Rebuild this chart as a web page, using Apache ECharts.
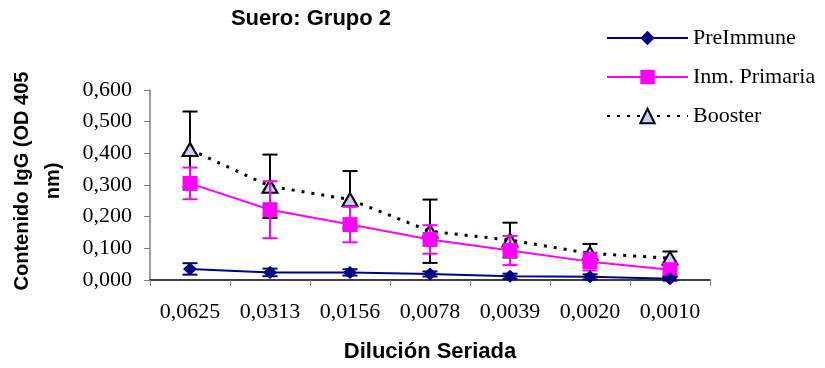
<!DOCTYPE html>
<html>
<head>
<meta charset="utf-8">
<script src="https://cdn.jsdelivr.net/npm/echarts@6/dist/echarts.min.js"></script>
<style>html,body{margin:0;padding:0;background:#fff;}#c{width:825px;height:368px;}</style>
</head>
<body>
<div id="c"></div>
<script>
const categories = ['0,0625','0,0313','0,0156','0,0078','0,0039','0,0020','0,0010'];
const preImmune = [0.035,0.024,0.024,0.019,0.012,0.010,0.004];
const preImmuneErr = [0.018,0.012,0.010,0.008,0.008,0.008,0.006];
const primaria = [0.305,0.222,0.175,0.128,0.093,0.058,0.032];
const primariaErr = [0.050,0.090,0.056,0.045,0.046,0.028,0.020];
const booster = [0.412,0.296,0.254,0.154,0.126,0.084,0.069];
const boosterErr = [0.120,0.100,0.090,0.100,0.055,0.030,0.021];
const yTicks = {min:0, max:0.6, interval:0.1};

function errData(vals, errs){ return vals.map((v,i)=>[i, v-errs[i], v+errs[i]]); }
function errRender(color){
  return function(params, api){
    const x = api.value(0);
    const lo = api.coord([x, api.value(1)]);
    const hi = api.coord([x, api.value(2)]);
    const h = 7.5;
    const st = {stroke: color, lineWidth: 2};
    return {type:'group', children:[
      {type:'line', shape:{x1:hi[0], y1:hi[1], x2:lo[0], y2:lo[1]}, style:st},
      {type:'line', shape:{x1:hi[0]-h, y1:hi[1], x2:hi[0]+h, y2:hi[1]}, style:st},
      {type:'line', shape:{x1:lo[0]-h, y1:lo[1], x2:lo[0]+h, y2:lo[1]}, style:st}
    ]};
  };
}

const chart = echarts.init(document.getElementById('c'));
const serif = 'Liberation Serif';
const sans = 'Liberation Sans';
chart.setOption({
  animation:false,
  backgroundColor:'#fff',
  grid:{left:150, right:115, top:90, bottom:86},
  graphic:[
    {type:'text', x:311, y:8, style:{text:'Suero: Grupo 2', font:'bold 22px "Liberation Sans"', fill:'#000', textAlign:'center', textVerticalAlign:'top'}},
    {type:'text', x:38, y:181, rotation:Math.PI/2, style:{text:'Contenido IgG (OD 405\nnm)', font:'bold 20px "Liberation Sans"', lineHeight:31, fill:'#000', textAlign:'center', textVerticalAlign:'middle'}}
  ],
  legend:{
    orient:'vertical', left:601, top:22, itemWidth:81, itemHeight:18, itemGap:17,
    data:['PreImmune','Inm. Primaria','Booster'],
    textStyle:{fontFamily:serif, fontSize:22, color:'#000'}
  },
  xAxis:{
    type:'category', data:categories, boundaryGap:true,
    name:'Dilución Seriada', nameLocation:'middle', nameGap:61,
    nameTextStyle:{fontFamily:sans, fontWeight:'bold', fontSize:22, color:'#000'},
    axisLine:{lineStyle:{color:'#000', width:1.5}},
    axisTick:{show:true, alignWithLabel:false, length:6, lineStyle:{color:'#808080'}},
    axisLabel:{margin:21, fontFamily:serif, fontSize:22, color:'#000'},
    splitLine:{show:false}
  },
  yAxis:{
    type:'value', min:yTicks.min, max:yTicks.max, interval:yTicks.interval,
    axisLine:{show:true, lineStyle:{color:'#808080', width:1.5}},
    axisTick:{show:true, length:6, lineStyle:{color:'#808080'}},
    axisLabel:{margin:18, fontFamily:serif, fontSize:22, color:'#000', formatter:v=>v.toFixed(3).replace('.',',')},
    splitLine:{show:false}
  },
  series:[
    {name:'errB', type:'custom', z:1, renderItem:errRender('#000'), data:errData(booster, boosterErr), encode:{x:0, y:[1,2]}},
    {name:'Booster', type:'line', z:2, data:booster, symbol:'triangle', symbolSize:[15,13],
      lineStyle:{color:'#000', width:3, type:[3,7]},
      itemStyle:{color:'#CCCCFF', borderColor:'#000', borderWidth:2}},
    {name:'errP', type:'custom', z:3, renderItem:errRender('#FF00FF'), data:errData(primaria, primariaErr), encode:{x:0, y:[1,2]}},
    {name:'Inm. Primaria', type:'line', z:4, data:primaria, symbol:'rect', symbolSize:15,
      lineStyle:{color:'#FF00FF', width:2},
      itemStyle:{color:'#FF00FF', borderWidth:0}},
    {name:'errI', type:'custom', z:5, renderItem:errRender('#000080'), data:errData(preImmune, preImmuneErr), encode:{x:0, y:[1,2]}},
    {name:'PreImmune', type:'line', z:6, data:preImmune, symbol:'diamond', symbolSize:[14,13],
      lineStyle:{color:'#000080', width:2},
      itemStyle:{color:'#000080', borderWidth:0}}
  ]
});
</script>
</body>
</html>
